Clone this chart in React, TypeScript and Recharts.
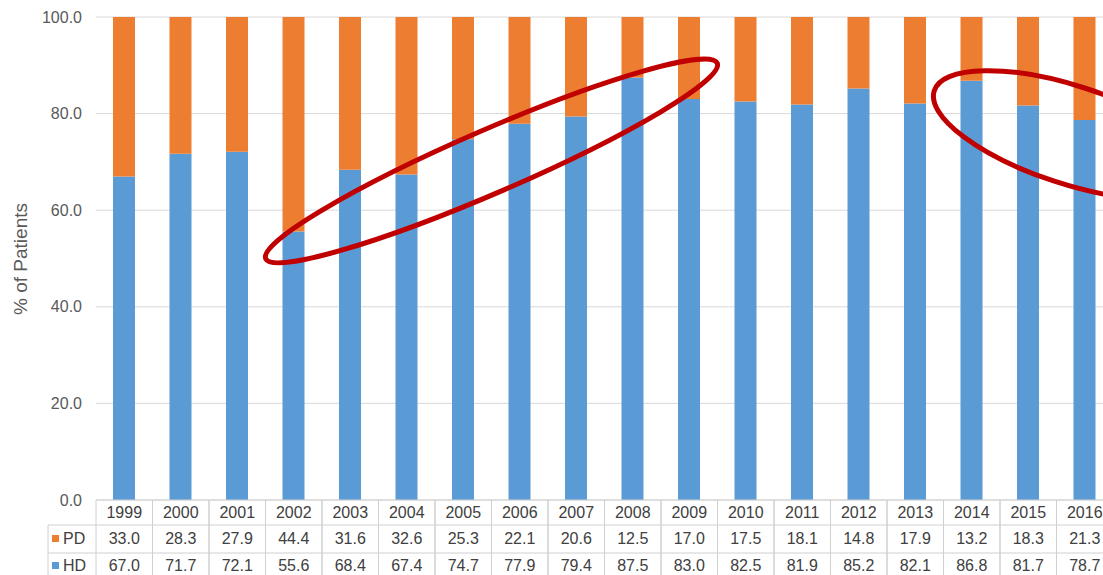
import React from 'react'
import { BarChart, Bar, XAxis, YAxis, CartesianGrid, ReferenceDot } from 'recharts'

const years = ['1999', '2000', '2001', '2002', '2003', '2004', '2005', '2006', '2007', '2008', '2009', '2010', '2011', '2012', '2013', '2014', '2015', '2016']
const pd = [33.0, 28.3, 27.9, 44.4, 31.6, 32.6, 25.3, 22.1, 20.6, 12.5, 17.0, 17.5, 18.1, 14.8, 17.9, 13.2, 18.3, 21.3]
const hd = [67.0, 71.7, 72.1, 55.6, 68.4, 67.4, 74.7, 77.9, 79.4, 87.5, 83.0, 82.5, 81.9, 85.2, 82.1, 86.8, 81.7, 78.7]
const yTicks = [0, 20, 40, 60, 80, 100]

const data = years.map((year, i) => ({ year, PD: pd[i], HD: hd[i] }))

const ORANGE = '#ED7D31'
const BLUE = '#5B9BD5'
const BORDER = '#d0d0d0'
const TEXT = '#404040'
const CHART_W = 1120
const YAXIS_W = 96
const MARGIN_R = 7
const BAND = (CHART_W - YAXIS_W - MARGIN_R) / years.length

const TableTick = (props: any) => {
  const { x, y, payload } = props
  const i = years.indexOf(String(payload.value))
  const left = x - BAND / 2
  const right = x + BAND / 2
  const line = { stroke: BORDER, strokeWidth: 1 }
  const txt = { fill: TEXT, fontSize: 16, textAnchor: 'middle' as const }
  return (
    <g>
      <line x1={left} y1={y} x2={left} y2={y + 75} {...line} />
      <line x1={right} y1={y} x2={right} y2={y + 75} {...line} />
      <line x1={left} y1={y + 25} x2={right} y2={y + 25} {...line} />
      <line x1={left} y1={y + 53} x2={right} y2={y + 53} {...line} />
      <text x={x} y={y + 18} {...txt}>{payload.value}</text>
      <text x={x} y={y + 44} {...txt}>{pd[i].toFixed(1)}</text>
      <text x={x} y={y + 71} {...txt}>{hd[i].toFixed(1)}</text>
      {i === 0 && (
        <g>
          <line x1={48} y1={y + 25} x2={left} y2={y + 25} {...line} />
          <line x1={48} y1={y + 53} x2={left} y2={y + 53} {...line} />
          <line x1={48} y1={y + 25} x2={48} y2={y + 75} {...line} />
          <rect x={52} y={y + 35} width={7} height={7} fill={ORANGE} />
          <text x={63} y={y + 44} fill={TEXT} fontSize={16}>PD</text>
          <rect x={52} y={y + 62} width={7} height={7} fill={BLUE} />
          <text x={63} y={y + 71} fill={TEXT} fontSize={16}>HD</text>
        </g>
      )}
    </g>
  )
}

const ellipseShape = (dx: number, rx: number, ry: number, angle: number) => (p: any) => {
  const cx = p.cx + dx
  const cy = p.cy
  return (
    <ellipse
      cx={cx}
      cy={cy}
      rx={rx}
      ry={ry}
      transform={`rotate(${angle} ${cx} ${cy})`}
      fill="none"
      stroke="#C00000"
      strokeWidth={5}
    />
  )
}

export default function App() {
  return (
    <div
      style={{
        position: 'absolute',
        left: 0,
        top: 0,
        width: 1103,
        height: 575,
        overflow: 'hidden',
        background: '#fff',
        fontFamily: '"Liberation Sans", Arial, sans-serif',
      }}
    >
      <BarChart
        width={CHART_W}
        height={575}
        data={data}
        margin={{ top: 17, right: MARGIN_R, bottom: 0, left: 0 }}
      >
        <CartesianGrid vertical={false} stroke="#d9d9d9" />
        <YAxis
          width={YAXIS_W}
          domain={[0, 100]}
          ticks={yTicks}
          interval={0}
          axisLine={false}
          tickLine={false}
          tickMargin={8}
          tickFormatter={(v: number) => v.toFixed(1)}
          tick={{ fill: '#595959', fontSize: 16 }}
          label={{
            content: () => (
              <text transform="translate(27 259) rotate(-90)" textAnchor="middle" fill="#595959" fontSize={19}>
                % of Patients
              </text>
            ),
          }}
        />
        <XAxis
          dataKey="year"
          height={75}
          interval={0}
          tickLine={false}
          tickSize={0}
          tickMargin={0}
          axisLine={{ stroke: BORDER }}
          tick={<TableTick />}
        />
        <Bar dataKey="HD" stackId="a" fill={BLUE} barSize={22} isAnimationActive={false} />
        <Bar dataKey="PD" stackId="a" fill={ORANGE} barSize={22} isAnimationActive={false} />
        <ReferenceDot x="2005" y={70.2} r={0} ifOverflow="visible" shape={ellipseShape(BAND / 2, 246, 31.5, -23.4)} />
        <ReferenceDot x="2016" y={75.6} r={0} ifOverflow="visible" shape={ellipseShape(-14.5, 143, 49, 18)} />
      </BarChart>
    </div>
  )
}
